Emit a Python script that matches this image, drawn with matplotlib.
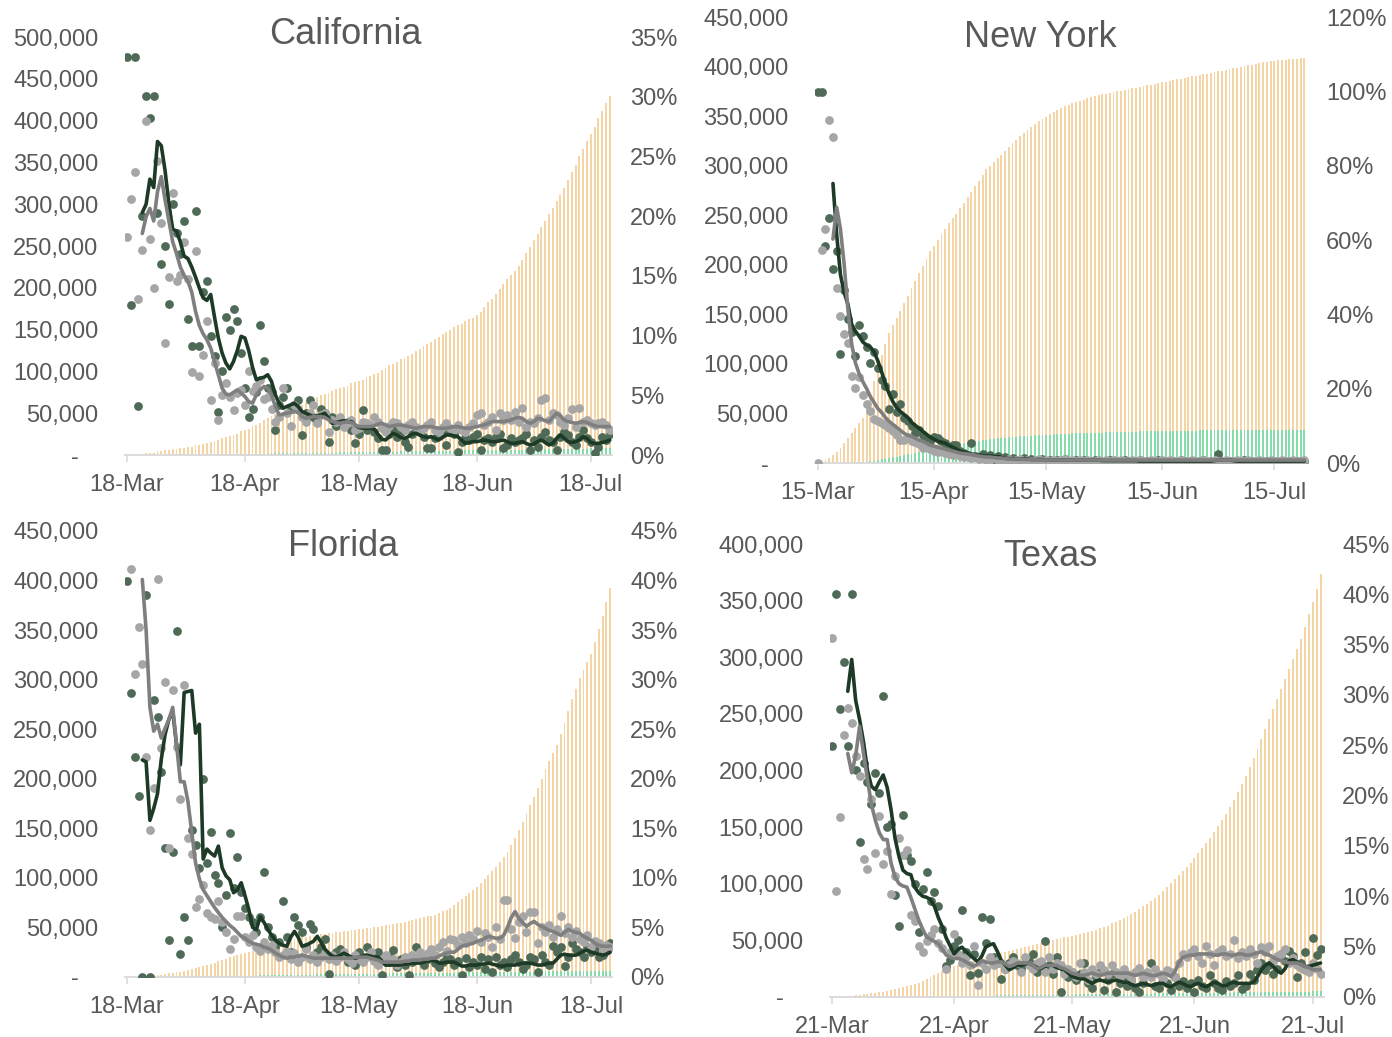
import numpy as np
import pandas as pd
import matplotlib
matplotlib.use('Agg')
import matplotlib.pyplot as plt
import matplotlib.dates as mdates

plt.rcParams['font.family'] = ['Liberation Sans', 'DejaVu Sans']

TEXT = '#595959'
AXIS = '#D9D9D9'
DARK_DOT = '#4F6B58'
GRAY_DOT = '#A6A6A6'
DARK_LINE = '#1C3A25'
GRAY_LINE = '#7F7F7F'
ORANGE = '#F5D5A5'
GREEN = '#86DBAA'
n = None

# ---------------- California (from 18-Mar), values in thousands / percent
ca_dark_dots = [476, 179, 476, 59, 286, 429, 403, 429, 290, 229,
                250, 181, 300, 265, 240, 280, 163, 130, 292, 131,
                195, 208, 142, 118, 52, 100, 165, 150, 175, 160,
                122, 80, 46, 55, 75, 155, 112, 80, 75, 30,
                60, 70, 80, 55, 60, 66, 24, 50, 66, 45,
                40, 55, 50, 16, 45, 35, 42, 38, 40, 30,
                14, 25, 54, 30, 35, 28, 20, 6, 6, 25,
                30, 22, 28, 15, 10, 25, 30, 28, 22, 8,
                8, 20, 25, 30, 12, 28, 25, 4, 15, 20,
                18, 22, 25, 6, 18, 20, 15, 22, 25, 8,
                12, 20, 15, 18, 20, 25, 6, 18, 10, 22,
                28, 18, 15, 6, 22, 28, 24, 15, 12, 22,
                30, 20, 15, 2, 10, 22, 18, 25]
ca_gray_dots = [261, 306, 338, 187, 245, 400, 259, 200, 352, 278,
                134, 213, 314, 208, 215, 255, 210, 99, 244, 94,
                120, 160, 66, 110, 42, 72, 86, 70, 54, 74,
                78, 60, 100, 77, 82, 90, 67, 70, 55, 40,
                45, 80, 50, 35, 60, 55, 45, 40, 50, 60,
                38, 48, 50, 28, 42, 40, 45, 34, 38, 42,
                30, 32, 40, 38, 36, 45, 40, 32, 28, 35,
                40, 38, 34, 30, 36, 40, 34, 28, 32, 36,
                40, 30, 28, 34, 38, 32, 30, 36, 30, 28,
                34, 38, 48, 50, 36, 40, 45, 30, 50, 42,
                48, 42, 52, 40, 56, 34, 40, 38, 44, 66,
                68, 42, 50, 48, 40, 36, 44, 55, 34, 56,
                40, 42, 38, 36, 38, 40, 36, 30]
ca_dark_line = [n, n, n, n, 290, 300, 330, 320, 375, 370,
                340, 300, 270, 268, 255, 238, 235, 225, 213, 200,
                188, 185, 192, 165, 140, 122, 110, 103, 112, 125,
                142, 140, 125, 105, 90, 92, 93, 96, 88, 72,
                62, 56, 58, 60, 62, 58, 52, 50, 48, 46,
                47, 48, 50, 44, 38, 39, 40, 41, 40, 40,
                36, 33, 32, 32, 32, 31, 25, 19, 18, 22,
                26, 24, 21, 20, 22, 25, 26, 24, 22, 21,
                22, 20, 18, 21, 24, 24, 23, 22, 18, 14,
                15, 16, 16, 17, 18, 17, 16, 16, 17, 18,
                16, 14, 14, 15, 16, 14, 12, 13, 16, 18,
                15, 12, 14, 20, 24, 20, 16, 15, 16, 18,
                22, 20, 15, 14, 14, 15, 16, 18]
ca_gray_line = [n, n, n, n, 265, 285, 295, 280, 315, 333,
                305, 280, 255, 241, 225, 215, 208, 195, 172, 155,
                145, 138, 128, 112, 96, 80, 73, 72, 75, 78,
                74, 70, 64, 62, 72, 78, 82, 80, 72, 58,
                48, 49, 50, 51, 52, 51, 46, 44, 45, 46,
                46, 46, 45, 42, 40, 39, 38, 39, 40, 39,
                36, 34, 34, 34, 34, 35, 37, 38, 36, 34,
                35, 36, 36, 35, 34, 33, 32, 33, 34, 34,
                34, 33, 32, 32, 32, 33, 34, 34, 33, 32,
                32, 33, 34, 35, 36, 38, 40, 40, 40, 40,
                41, 42, 44, 45, 44, 40, 38, 40, 44, 43,
                41, 40, 45, 50, 47, 42, 40, 39, 38, 39,
                40, 39, 37, 35, 34, 34, 34, 34]
ca_orange = [0.0, 0.0, 0.1, 0.1, 0.1, 0.2, 0.2, 0.2, 0.3, 0.3,
             0.4, 0.4, 0.5, 0.5, 0.6, 0.6, 0.7, 0.7, 0.8, 0.8,
             0.9, 1.0, 1.1, 1.2, 1.3, 1.4, 1.5, 1.6, 1.7, 1.8,
             2.0, 2.1, 2.2, 2.4, 2.5, 2.7, 2.9, 3.1, 3.3, 3.4,
             3.5, 3.6, 3.7, 3.8, 4.0, 4.1, 4.2, 4.4, 4.5, 4.7,
             4.9, 5.0, 5.1, 5.2, 5.4, 5.5, 5.6, 5.7, 5.8, 6.0,
             6.1, 6.2, 6.3, 6.5, 6.6, 6.8, 6.9, 7.1, 7.3, 7.5,
             7.6, 7.8, 8.0, 8.1, 8.3, 8.5, 8.7, 8.9, 9.1, 9.3,
             9.5, 9.7, 9.9, 10.1, 10.3, 10.5, 10.7, 10.9, 11.0, 11.2,
             11.4, 11.5, 11.7, 12.0, 12.4, 12.8, 13.1, 13.5, 13.9, 14.3,
             14.7, 15.1, 15.4, 15.8, 16.3, 16.9, 17.4, 18.0, 18.5, 19.1,
             19.6, 20.2, 20.7, 21.3, 21.8, 22.4, 23.0, 23.7, 24.3, 25.0,
             25.6, 26.3, 26.9, 27.5, 28.2, 28.8, 29.5, 30.1]
ca_green = [0, 0, 0, 0, 0, 0, 0, 0, 0, 0,
            0, 0, 0.01, 0.01, 0.01, 0.02, 0.02, 0.02, 0.03, 0.03,
            0.04, 0.04, 0.05, 0.05, 0.06, 0.06, 0.07, 0.07, 0.08, 0.08,
            0.09, 0.09, 0.1, 0.1, 0.11, 0.11, 0.12, 0.12, 0.13, 0.13,
            0.14, 0.14, 0.15, 0.15, 0.16, 0.16, 0.17, 0.17, 0.18, 0.18,
            0.19, 0.19, 0.2, 0.2, 0.21, 0.21, 0.22, 0.22, 0.23, 0.23,
            0.24, 0.24, 0.25, 0.25, 0.26, 0.26, 0.27, 0.27, 0.28, 0.28,
            0.29, 0.29, 0.3, 0.3, 0.31, 0.31, 0.32, 0.32, 0.33, 0.33,
            0.34, 0.34, 0.35, 0.35, 0.36, 0.36, 0.37, 0.37, 0.38, 0.38,
            0.39, 0.39, 0.4, 0.4, 0.41, 0.41, 0.42, 0.42, 0.43, 0.43,
            0.44, 0.44, 0.45, 0.45, 0.46, 0.46, 0.47, 0.47, 0.48, 0.48,
            0.49, 0.49, 0.5, 0.5, 0.51, 0.51, 0.52, 0.52, 0.53, 0.53,
            0.54, 0.54, 0.55, 0.55, 0.56, 0.56, 0.57, 0.57]

# ---------------- New York (from 15-Mar)
ny_dark_dots = [374, 374, 219, 247, 196, 214, 110, 175, 145, 132,
                108, 139, 128, 117, 101, 112, 96, 84, 78, 55,
                70, 51, 60, 45, 42, 37, 30, 33, 28, 24,
                22, 26, 25, 22, 20, 15, 18, 18, 12, 10,
                8, 20, 7, 6, 9, 5, 8, 4, 7, 3,
                6, 4, 5, 3, 2, 5, 3, 4, 2, 3,
                4, 2, 3, 1, 3, 2, 4, 2, 1, 3,
                2, 3, 1, 2, 3, 2, 1, 2, 3, 1,
                2, 1, 3, 2, 1, 2, 3, 1, 2, 1,
                2, 3, 1, 2, 1, 2, 1, 3, 2, 1,
                2, 1, 2, 3, 1, 2, 1, 9, 2, 1,
                2, 1, 2, 1, 3, 1, 2, 1, 2, 1,
                2, 1, 2, 1, 2, 1, 2, 1, 2, 1,
                2]
ny_gray_dots = [0, 215, 236, 346, 329, 177, 148, 130, 121, 88,
                76, 87, 69, 60, 52, 44, 42, 40, 38, 35,
                32, 28, 23, 23, 26, 22, 21, 19, 15, 17,
                14, 12, 11, 12, 10, 9, 8, 10, 7, 6,
                7, 5, 6, 4, 5, 3, 4, 5, 3, 4,
                3, 4, 2, 3, 4, 2, 3, 2, 3, 4,
                2, 3, 2, 3, 2, 3, 4, 2, 3, 2,
                3, 2, 3, 2, 2, 3, 2, 3, 2, 3,
                2, 3, 2, 2, 3, 2, 3, 2, 2, 3,
                2, 2, 3, 2, 3, 2, 2, 3, 2, 2,
                3, 2, 2, 3, 2, 2, 3, 2, 2, 3,
                2, 2, 3, 2, 2, 3, 2, 2, 3, 2,
                2, 3, 2, 2, 3, 2, 2, 3, 2, 2,
                3]
ny_dark_line = [n, n, n, n, 282, 230, 190, 172, 160, 140,
                133, 128, 122, 119, 117, 112, 103, 92, 80, 70,
                62, 56, 52, 49, 46, 41, 38, 35, 32, 29,
                26, 24, 22, 21, 20, 18, 16, 14, 12, 11,
                10, 9, 8.5, 8, 7.5, 7, 7, 7, 6.5, 6,
                5, 4.5, 4.5, 4, 4, 4, 4, 3.5, 3.5, 3.5,
                3.5, 3, 3, 3, 3, 3, 3, 3, 3, 3,
                3, 3, 3, 3, 3, 3, 2.5, 2.5, 2.5, 2.5,
                2.5, 2.5, 2.5, 2.5, 2.5, 2.5, 2, 2, 2, 2,
                2, 2, 2, 2, 2, 2, 2, 2, 2, 2,
                2, 2, 2, 2, 2, 2, 2.5, 3, 3, 3,
                3, 2.5, 2, 2, 2, 2, 2, 2, 2, 2,
                2, 2, 2, 2, 2, 2, 2, 2, 2, 2,
                2]
ny_gray_line = [n, n, n, n, 226, 258, 236, 200, 155, 120,
                101, 90, 82, 75, 67, 61, 55, 51, 46, 42,
                39, 36, 33, 30, 28, 27, 25, 23, 22, 20,
                18, 17, 16, 15, 14, 13, 12, 11, 10, 9.5,
                9, 8.5, 8, 7, 6.5, 6, 6, 5.5, 5, 5,
                4.5, 4, 4, 4, 4, 3.5, 3.5, 3.5, 3.5, 3,
                3, 3, 3, 3, 3, 3, 3, 3, 3, 3,
                3, 3, 3, 3, 3, 3, 3, 3, 3, 3,
                3, 3, 3, 3, 3, 3, 3, 3, 3, 3,
                3, 3, 3, 3, 3, 3, 3, 3, 3, 3,
                3, 3, 3, 3, 3, 3, 3, 3, 3, 3,
                3, 3, 3, 3, 3, 3, 3, 3, 3, 3,
                3, 3, 3, 3, 3, 3, 3, 3, 3, 3,
                3]
ny_orange = [0.2, 0.4, 0.8, 1.3, 2.2, 3.0, 4.0, 5.3, 6.6, 8.0,
             9.5, 10.8, 12.0, 15.0, 18.5, 22.0, 25.5, 29.0, 32.0, 35.0,
             37.0, 39.0, 41.0, 43.0, 45.0, 47.0, 49.0, 51.0, 53.0, 55.0,
             57.0, 58.5, 60.0, 61.5, 63.0, 64.5, 66.0, 67.0, 68.5, 70.0,
             71.5, 73.0, 74.5, 76.0, 77.5, 79.0, 80.0, 81.0, 82.0, 83.0,
             84.0, 85.0, 86.0, 87.0, 88.0, 88.8, 89.6, 90.4, 91.2, 92.0,
             92.6, 93.2, 93.8, 94.4, 95.0, 95.5, 96.0, 96.4, 96.8, 97.2,
             97.5, 97.8, 98.1, 98.4, 98.7, 99.0, 99.2, 99.4, 99.6, 99.8,
             100.0, 100.2, 100.4, 100.6, 100.8, 101.0, 101.2, 101.4, 101.6, 101.8,
             102.0, 102.2, 102.4, 102.6, 102.8, 103.0, 103.2, 103.4, 103.6, 103.8,
             104.0, 104.2, 104.4, 104.6, 104.8, 105.0, 105.2, 105.4, 105.6, 105.8,
             106.0, 106.2, 106.4, 106.6, 106.8, 107.0, 107.2, 107.4, 107.6, 107.8,
             108.0, 108.1, 108.2, 108.3, 108.4, 108.5, 108.6, 108.7, 108.8, 108.9,
             109.0]
ny_green = [0, 0, 0, 0, 0, 0, 0, 0, 0.05, 0.1,
            0.15, 0.2, 0.3, 0.4, 0.5, 0.65, 0.8, 0.95, 1.1, 1.3,
            1.5, 1.7, 1.9, 2.1, 2.3, 2.5, 2.7, 2.9, 3.1, 3.3,
            3.5, 3.7, 3.9, 4.1, 4.3, 4.5, 4.7, 4.9, 5.1, 5.3,
            5.5, 5.7, 5.9, 6.0, 6.2, 6.3, 6.4, 6.5, 6.6, 6.7,
            6.8, 6.9, 7.0, 7.1, 7.2, 7.3, 7.35, 7.4, 7.45, 7.5,
            7.55, 7.6, 7.65, 7.7, 7.75, 7.8, 7.85, 7.9, 7.95, 8.0,
            8.0, 8.05, 8.1, 8.1, 8.15, 8.2, 8.2, 8.25, 8.3, 8.3,
            8.35, 8.4, 8.4, 8.4, 8.45, 8.45, 8.5, 8.5, 8.5, 8.55,
            8.55, 8.55, 8.6, 8.6, 8.6, 8.65, 8.65, 8.65, 8.7, 8.7,
            8.7, 8.7, 8.75, 8.75, 8.75, 8.75, 8.8, 8.8, 8.8, 8.8,
            8.85, 8.85, 8.85, 8.85, 8.9, 8.9, 8.9, 8.9, 8.9, 8.95,
            8.95, 8.95, 8.95, 8.95, 9.0, 9.0, 9.0, 9.0, 9.0, 9.0,
            9.0]

# ---------------- Florida (from 18-Mar)
fl_dark_dots = [400, 286, 222, 183, 0, 385, 0, 279, 262, 207,
                130, 37, 126, 349, 23, 60, 37, 148, 133, 110,
                200, 115, 146, 103, 95, 50, 83, 145, 90, 121,
                86, 70, 60, 55, 45, 60, 106, 50, 40, 30,
                35, 77, 40, 25, 60, 52, 45, 30, 53, 48,
                25, 30, 38, 3, 20, 25, 28, 22, 15, 18,
                12, 25, 20, 30, 22, 18, 25, 2, 15, 20,
                27, 10, 18, 12, 2, 15, 30, 20, 12, 18,
                25, 14, 10, 15, 20, 18, 12, 16, 2, 19,
                10, 15, 12, 20, 8, 18, 5, 20, 12, 15,
                10, 18, 22, 15, 8, 12, 20, 18, 5, 22,
                15, 12, 31, 25, 30, 11, 20, 34, 28, 25,
                20, 30, 25, 28, 20, 22, 26, 34]
fl_gray_dots = [n, 412, 306, 353, 316, 222, 148, 191, 402, 231,
                298, 130, 290, 232, 180, 295, 140, 124, 71, 79,
                93, 65, 60, 58, 77, 55, 45, 28, 38, 62,
                61, 40, 35, 42, 30, 26, 35, 28, 32, 25,
                20, 22, 26, 18, 24, 15, 20, 28, 18, 22,
                15, 20, 24, 18, 22, 16, 20, 25, 18, 14,
                22, 18, 15, 20, 25, 16, 12, 18, 22, 15,
                18, 12, 15, 20, 16, 22, 18, 25, 20, 24,
                28, 22, 30, 35, 26, 38, 37, 32, 40, 34,
                42, 38, 46, 35, 44, 40, 30, 50, 38, 78,
                78, 48, 39, 55, 62, 45, 66, 66, 34, 50,
                45, 52, 40, 48, 61, 44, 50, 40, 46, 38,
                35, 42, 30, 36, 34, 28, 32, 30]
fl_dark_line = [n, n, n, n, 219, 217, 158, 170, 185, 220,
                245, 260, 268, 234, 214, 287, 288, 289, 246, 255,
                119, 129, 125, 122, 132, 110, 102, 98, 85, 88,
                95, 82, 68, 50, 48, 61, 55, 48, 42, 37,
                34, 32, 31, 40, 46, 40, 31, 32, 34, 36,
                41, 35, 28, 24, 21, 20, 22, 24, 22, 20,
                19, 20, 21, 22, 21, 20, 20, 16, 12, 12,
                12, 12, 12, 13, 13, 14, 14, 14, 15, 16,
                17, 16, 14, 14, 15, 15, 15, 13, 11, 11,
                12, 12, 12, 13, 13, 14, 13, 12, 11, 11,
                12, 12, 12, 13, 14, 14, 14, 13, 12, 12,
                13, 14, 14, 18, 22, 23, 22, 22, 22, 24,
                26, 27, 25, 24, 23, 22, 23, 25]
fl_gray_line = [n, n, n, n, 401, 350, 272, 248, 255, 241,
                251, 260, 272, 234, 197, 197, 177, 146, 115, 99,
                88, 82, 76, 70, 65, 60, 56, 52, 49, 45,
                41, 39, 36, 34, 33, 32, 30, 29, 27, 24,
                22, 20, 19, 20, 20, 21, 22, 21, 20, 19,
                19, 19, 19, 19, 19, 19, 19, 19, 19, 19,
                20, 20, 20, 20, 19, 18, 17, 15, 15, 15,
                15, 15, 15, 16, 16, 17, 17, 17, 18, 18,
                19, 19, 21, 23, 24, 25, 25, 28, 31, 32,
                33, 34, 36, 37, 39, 41, 40, 39, 39, 42,
                50, 60, 66, 59, 55, 51, 54, 56, 53, 51,
                49, 47, 46, 44, 42, 45, 48, 46, 45, 44,
                41, 39, 37, 34, 32, 31, 31, 31]
fl_orange = [0.0, 0.0, 0.05, 0.05, 0.1, 0.1, 0.15, 0.15, 0.2, 0.2,
             0.3, 0.35, 0.4, 0.5, 0.55, 0.6, 0.7, 0.8, 0.9, 1.0,
             1.1, 1.2, 1.3, 1.4, 1.6, 1.7, 1.8, 2.0, 2.1, 2.2,
             2.3, 2.4, 2.5, 2.6, 2.7, 2.8, 2.9, 3.0, 3.1, 3.2,
             3.4, 3.5, 3.6, 3.7, 3.8, 3.9, 4.0, 4.0, 4.1, 4.2,
             4.2, 4.3, 4.3, 4.4, 4.4, 4.5, 4.5, 4.6, 4.6, 4.7,
             4.7, 4.8, 4.8, 4.9, 4.9, 5.0, 5.0, 5.1, 5.2, 5.2,
             5.3, 5.4, 5.4, 5.5, 5.6, 5.7, 5.8, 5.9, 6.0, 6.1,
             6.2, 6.3, 6.5, 6.7, 6.8, 7.0, 7.3, 7.6, 7.9, 8.2,
             8.5, 8.8, 9.1, 9.5, 9.9, 10.3, 10.7, 11.1, 11.6, 12.1,
             12.6, 13.3, 14.0, 14.8, 15.6, 16.4, 17.3, 18.2, 19.1, 20.0,
             21.0, 21.8, 22.6, 23.4, 24.5, 25.6, 26.8, 28.0, 29.1, 30.2,
             31.0, 31.8, 32.6, 33.8, 35.1, 36.4, 37.8, 39.2]
fl_green = [0, 0, 0, 0, 0, 0, 0, 0, 0, 0,
            0, 0.01, 0.01, 0.02, 0.02, 0.03, 0.03, 0.04, 0.04, 0.05,
            0.05, 0.06, 0.06, 0.07, 0.08, 0.08, 0.09, 0.1, 0.1, 0.11,
            0.12, 0.12, 0.13, 0.14, 0.14, 0.15, 0.16, 0.16, 0.17, 0.18,
            0.18, 0.19, 0.2, 0.2, 0.21, 0.22, 0.22, 0.23, 0.24, 0.24,
            0.25, 0.26, 0.26, 0.27, 0.28, 0.28, 0.29, 0.3, 0.3, 0.31,
            0.31, 0.32, 0.32, 0.33, 0.33, 0.34, 0.34, 0.35, 0.35, 0.36,
            0.36, 0.37, 0.37, 0.38, 0.38, 0.39, 0.39, 0.4, 0.4, 0.41,
            0.41, 0.42, 0.42, 0.43, 0.43, 0.44, 0.44, 0.45, 0.45, 0.46,
            0.46, 0.47, 0.47, 0.48, 0.48, 0.49, 0.49, 0.5, 0.5, 0.51,
            0.51, 0.52, 0.52, 0.53, 0.53, 0.54, 0.54, 0.55, 0.55, 0.56,
            0.56, 0.57, 0.57, 0.58, 0.58, 0.59, 0.59, 0.6, 0.6, 0.61,
            0.61, 0.62, 0.62, 0.63, 0.63, 0.64, 0.64, 0.65]

# ---------------- Texas (from 21-Mar)
tx_dark_dots = [222, 356, 254, 296, 222, 356, 200, 137, 207, 190,
                170, 198, 180, 266, 150, 153, 90, 63, 161, 125,
                120, 100, 57, 95, 110, 85, 93, 80, 60, 27,
                33, 45, 50, 77, 40, 19, 38, 21, 71, 48,
                69, 35, 30, 16, 25, 30, 35, 28, 25, 30,
                32, 38, 22, 30, 49, 28, 20, 35, 4, 25,
                18, 22, 15, 20, 30, 12, 8, 18, 22, 6,
                15, 20, 4, 12, 18, 10, 15, 8, 4, 12,
                20, 30, 10, 8, 15, 12, 6, 18, 10, 14,
                8, 12, 4, 15, 10, 8, 19, 12, 8, 6,
                14, 10, 12, 19, 7, 10, 20, 15, 24, 30,
                24, 28, 20, 25, 38, 32, 41, 36, 18, 30,
                40, 25, 52, 37, 42]
tx_gray_dots = [317, 94, 159, 231, 255, 242, 213, 195, 122, 113,
                175, 127, 160, 117, 129, 91, 107, 140, 125, 130,
                72, 67, 45, 40, 49, 55, 60, 48, 43, 25,
                40, 56, 38, 30, 35, 28, 45, 11, 30, 25,
                35, 28, 32, 30, 25, 28, 32, 30, 22, 35,
                28, 25, 30, 32, 22, 35, 25, 30, 28, 20,
                25, 22, 18, 30, 22, 15, 25, 20, 28, 24,
                20, 28, 22, 18, 25, 20, 15, 22, 26, 18,
                22, 18, 25, 20, 16, 24, 22, 18, 30, 38,
                35, 40, 42, 36, 30, 45, 38, 28, 40, 42,
                36, 38, 50, 34, 40, 36, 42, 38, 30, 44,
                40, 45, 32, 36, 38, 42, 30, 34, 28, 26,
                24, 22, 30, 25, 20]
tx_dark_line = [n, n, n, n, 270, 298, 262, 245, 225, 200,
                186, 183, 190, 196, 185, 165, 140, 124, 112, 109,
                108, 97, 92, 89, 88, 86, 80, 70, 62, 52,
                45, 38, 42, 44, 40, 37, 34, 31, 36, 44,
                46, 47, 40, 32, 28, 24, 26, 28, 28, 29,
                30, 28, 26, 25, 27, 28, 28, 26, 25, 24,
                21, 18, 17, 16, 16, 14, 12, 14, 15, 14,
                13, 14, 15, 14, 13, 13, 11, 10, 11, 12,
                11, 10, 11, 12, 12, 10, 9, 11, 13, 12,
                10, 9, 11, 12, 10, 9, 11, 13, 12, 10,
                10, 12, 13, 12, 12, 12, 12, 13, 18, 24,
                28, 30, 27, 23, 21, 25, 32, 33, 31, 29,
                27, 27, 28, 29, 30]
tx_gray_line = [n, n, n, n, 215, 198, 213, 239, 215, 192,
                170, 156, 145, 139, 139, 118, 106, 100, 98, 97,
                88, 78, 68, 60, 53, 51, 49, 47, 42, 37,
                35, 34, 34, 33, 31, 29, 27, 29, 32, 31,
                30, 30, 31, 31, 29, 27, 28, 30, 30, 30,
                30, 28, 25, 26, 28, 28, 28, 28, 26, 25,
                23, 21, 20, 19, 19, 20, 21, 20, 19, 20,
                21, 21, 21, 21, 21, 21, 20, 19, 20, 21,
                20, 19, 19, 20, 21, 20, 18, 22, 30, 35,
                36, 37, 37, 38, 38, 38, 38, 37, 37, 38,
                38, 37, 37, 38, 38, 37, 37, 38, 39, 40,
                38, 37, 35, 33, 32, 31, 30, 30, 30, 29,
                27, 26, 24, 24, 24]
tx_orange = [0.0, 0.0, 0.05, 0.05, 0.1, 0.1, 0.15, 0.2, 0.25, 0.3,
             0.35, 0.4, 0.45, 0.5, 0.6, 0.7, 0.8, 0.9, 1.0, 1.1,
             1.2, 1.3, 1.4, 1.6, 1.8, 2.0, 2.2, 2.4, 2.6, 2.8,
             3.0, 3.1, 3.2, 3.3, 3.4, 3.5, 3.6, 3.8, 3.9, 4.0,
             4.1, 4.2, 4.3, 4.4, 4.5, 4.6, 4.7, 4.8, 4.9, 5.0,
             5.1, 5.2, 5.3, 5.4, 5.5, 5.6, 5.7, 5.8, 5.9, 6.0,
             6.0, 6.1, 6.2, 6.3, 6.4, 6.5, 6.6, 6.7, 6.9, 7.0,
             7.1, 7.3, 7.4, 7.6, 7.8, 8.0, 8.2, 8.4, 8.7, 9.0,
             9.2, 9.5, 9.8, 10.1, 10.5, 10.9, 11.3, 11.7, 12.1, 12.5,
             12.9, 13.3, 13.8, 14.3, 14.8, 15.3, 15.8, 16.4, 17.0, 17.6,
             18.2, 18.9, 19.6, 20.4, 21.2, 22.0, 22.8, 23.7, 24.6, 25.6,
             26.6, 27.6, 28.6, 29.6, 30.6, 31.6, 32.6, 33.6, 34.6, 35.6,
             36.8, 38.0, 39.2, 40.5, 42.0]
tx_green = [0, 0, 0, 0, 0, 0, 0, 0, 0, 0,
            0, 0, 0.01, 0.01, 0.01, 0.02, 0.02, 0.02, 0.03, 0.03,
            0.04, 0.04, 0.05, 0.05, 0.06, 0.06, 0.07, 0.07, 0.08, 0.08,
            0.09, 0.09, 0.1, 0.1, 0.11, 0.11, 0.12, 0.12, 0.13, 0.13,
            0.14, 0.14, 0.15, 0.15, 0.16, 0.16, 0.17, 0.17, 0.18, 0.18,
            0.19, 0.19, 0.2, 0.2, 0.21, 0.21, 0.22, 0.22, 0.23, 0.23,
            0.24, 0.24, 0.25, 0.25, 0.26, 0.26, 0.27, 0.27, 0.28, 0.28,
            0.29, 0.29, 0.3, 0.3, 0.31, 0.31, 0.32, 0.32, 0.33, 0.33,
            0.34, 0.34, 0.35, 0.35, 0.36, 0.36, 0.37, 0.37, 0.38, 0.38,
            0.39, 0.39, 0.4, 0.4, 0.41, 0.41, 0.42, 0.42, 0.43, 0.43,
            0.44, 0.44, 0.45, 0.45, 0.46, 0.46, 0.47, 0.47, 0.48, 0.48,
            0.49, 0.49, 0.5, 0.5, 0.51, 0.51, 0.52, 0.52, 0.53, 0.53,
            0.54, 0.54, 0.55, 0.55, 0.56]


def arr(values):
    return np.array([np.nan if v is None else v for v in values], dtype=float)


def left_fmt(v, pos):
    if v == 0:
        return '-   '
    return f'{int(round(v * 1000)):,}'


def draw_panel(fig, rect, title, title_xy, start, tick_day,
               dark_dots, gray_dots, dark_line, gray_line, orange, green,
               left_max, right_max, right_step, xpad):
    dates = pd.date_range(start, periods=len(dark_dots), freq='D')

    # bars on the base axes (percent scale, labels on the right)
    ax = fig.add_axes(rect)
    ax2 = ax.twinx()
    ax.bar(dates, arr(orange), width=0.5, color=ORANGE, linewidth=0)
    ax.bar(dates, arr(green), width=0.5, color=GREEN, linewidth=0)
    ax.set_ylim(0, right_max)
    ax.set_xlim(dates[0] - pd.Timedelta(days=xpad[0]),
                dates[-1] + pd.Timedelta(days=xpad[1]))

    # dots and moving averages on the twin (count scale, labels on the left)
    ax2.scatter(dates, arr(dark_dots), s=40, color=DARK_DOT, linewidths=0, zorder=2)
    ax2.scatter(dates, arr(gray_dots), s=40, color=GRAY_DOT, linewidths=0, zorder=2)
    ax2.plot(dates, arr(dark_line), color=DARK_LINE, lw=2.6, zorder=3,
             solid_joinstyle='round', solid_capstyle='round')
    ax2.plot(dates, arr(gray_line), color=GRAY_LINE, lw=2.6, zorder=3,
             solid_joinstyle='round', solid_capstyle='round')
    ax2.set_ylim(0, left_max)

    ax.yaxis.tick_right()
    ax2.yaxis.tick_left()
    ax.set_yticks(np.arange(0, right_max + 0.01, right_step))
    ax.yaxis.set_major_formatter(plt.FuncFormatter(lambda v, p: f'{v:.0f}%'))
    ax2.set_yticks(np.arange(0, left_max + 0.01, 50))
    ax2.yaxis.set_major_formatter(plt.FuncFormatter(left_fmt))
    ax.tick_params(axis='y', length=0, pad=13, labelsize=17, labelcolor=TEXT)
    ax2.tick_params(axis='y', length=0, pad=19, labelsize=17, labelcolor=TEXT)

    ax.xaxis.set_major_locator(mdates.DayLocator(bymonthday=tick_day))
    ax.xaxis.set_major_formatter(mdates.DateFormatter('%d-%b'))
    ax.tick_params(axis='x', length=5, width=1.1, color=AXIS, pad=9,
                   labelsize=17, labelcolor=TEXT)

    for s in ['top', 'left', 'right']:
        ax.spines[s].set_visible(False)
    ax.spines['bottom'].set_color(AXIS)
    ax.spines['bottom'].set_linewidth(1.3)
    for s in ax2.spines.values():
        s.set_visible(False)

    fig.text(title_xy[0], title_xy[1], title, ha='center', va='center',
             fontsize=26, color=TEXT)


fig = plt.figure(figsize=(13.92, 10.37), dpi=100)

draw_panel(fig, [0.0898, 0.5612, 0.3499, 0.4031], 'California', (0.2478, 0.9672),
           '2020-03-18', 18, ca_dark_dots, ca_gray_dots, ca_dark_line, ca_gray_line,
           ca_orange, ca_green, 500, 35, 5, (0.55, 0.6))
draw_panel(fig, [0.5855, 0.5535, 0.3542, 0.4301], 'New York', (0.7471, 0.9643),
           '2020-03-15', 15, ny_dark_dots, ny_gray_dots, ny_dark_line, ny_gray_line,
           ny_orange, ny_green, 450, 120, 20, (0.8, 1.0))
draw_panel(fig, [0.0898, 0.0579, 0.3499, 0.4301], 'Florida', (0.2464, 0.4734),
           '2020-03-18', 18, fl_dark_dots, fl_gray_dots, fl_dark_line, fl_gray_line,
           fl_orange, fl_green, 450, 45, 5, (0.55, 0.5))
draw_panel(fig, [0.5963, 0.0386, 0.3549, 0.4368], 'Texas', (0.7543, 0.4638),
           '2020-03-21', 21, tx_dark_dots, tx_gray_dots, tx_dark_line, tx_gray_line,
           tx_orange, tx_green, 400, 45, 5, (0.5, 0.9))

fig.savefig('out.png', dpi=100)
